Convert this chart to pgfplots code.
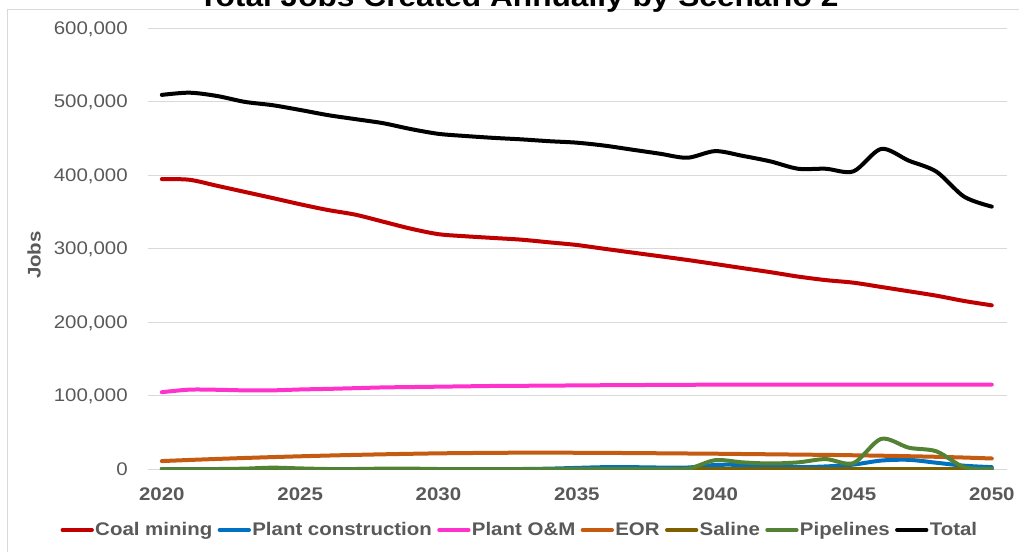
\documentclass[border=0pt]{standalone}
\usepackage{fontspec}
\setmainfont[FakeStretch=1.12]{Liberation Sans}
\usepackage{pgfplots}
\pgfplotsset{compat=1.18}
\usepackage{pgfplotstable}

\definecolor{coal}{HTML}{C00000}
\definecolor{constr}{HTML}{0070C0}
\definecolor{om}{HTML}{FF33CC}
\definecolor{eor}{HTML}{C55A11}
\definecolor{saline}{HTML}{7F6000}
\definecolor{pipe}{HTML}{548235}
\definecolor{txtgray}{HTML}{595959}
\definecolor{gridgray}{HTML}{D9D9D9}

% jobs per year, scenario 2
\pgfplotstableread{
year coal constr om eor saline pipe total
2020 394500 0 104500 10800 0 0 509000
2021 393500 0 108000 12300 0 0 512000
2022 385300 0 107800 13700 0 0 507500
2023 377000 0 107000 15000 0 500 499500
2024 368700 0 107000 16200 0 1800 495000
2025 360200 0 108200 17300 0 800 488500
2026 352400 0 109000 18300 0 0 481500
2027 346000 0 110000 19200 0 0 476000
2028 336500 0 111000 20000 0 500 470500
2029 327000 0 111500 20700 0 500 462500
2030 319500 0 112000 21300 0 0 456000
2031 316600 0 112500 21700 0 0 453000
2032 314300 0 113000 22000 0 0 450500
2033 312000 0 113200 22200 0 0 448500
2034 308400 500 113500 22200 0 0 446000
2035 304800 1500 113700 22100 0 0 444000
2036 299600 2500 114000 21900 0 0 440000
2037 294500 2500 114200 21700 0 0 434500
2038 289500 2000 114400 21400 0 0 429000
2039 284400 2000 114600 21100 0 0 423500
2040 278900 5500 114700 20800 0 12000 432500
2041 273300 5500 114800 20400 0 9000 426000
2042 267800 3000 114800 20000 0 7500 418500
2043 261800 2500 114800 19600 0 9000 408500
2044 257000 3500 114800 19200 0 13500 408500
2045 253500 6000 114800 18700 0 8000 405000
2046 247700 11500 114800 18100 0 41000 435500
2047 241800 12500 114800 17400 0 29000 419500
2048 235800 8500 114800 16600 0 24000 404500
2049 228600 4500 114800 15600 0 2500 370500
2050 222700 2500 114800 14300 0 0 357000
}\jobs

\begin{document}
\begin{tikzpicture}[x=1pt,y=1pt]
\draw[gridgray, line width=0.75pt] (5.25,-5) -- (5.25,405.75) -- (780,405.75);
\begin{axis}[
  at={(111pt,61.5pt)}, anchor=south west,
  scale only axis, width=644.25pt, height=330.75pt,
  xmin=2019.5, xmax=2050.55,
  ymin=0, ymax=600000,
  xtick={2020,2025,...,2050},
  ytick={0,100000,...,600000},
  scaled y ticks=false,
  ymajorgrids, grid style={gridgray, line width=0.75pt},
  axis line style={draw=none},
  major tick length=0pt,
  xticklabel style={font=\fontsize{13.7}{16}\selectfont\bfseries, text=txtgray, inner sep=0pt, anchor=north, yshift=-13.5pt},
  yticklabel style={font=\fontsize{13.7}{16}\selectfont, text=txtgray, inner sep=0pt, anchor=east, text depth=0pt, xshift=-15pt},
  x tick label style={/pgf/number format/1000 sep=},
  y tick label style={/pgf/number format/.cd, fixed, 1000 sep={,}},
  /pgf/number format/assume math mode=true,
  ylabel={Jobs},
  ylabel style={font=\fontsize{13.7}{16}\selectfont\bfseries, text=txtgray, at={(axis description cs:-0.1327,0.485)}, anchor=center},
  legend columns=-1,
  legend style={at={(axis description cs:0.4325,-0.1383)}, anchor=center, draw=none, fill=none,
    font=\fontsize{13.7}{16}\selectfont\bfseries, text=txtgray,
    nodes={inner sep=1pt},
    /tikz/every even column/.append style={column sep=3pt}},
  legend image code/.code={\draw[#1, line width=3pt] (0pt,0pt) -- (22pt,0pt);},
  every axis plot/.append style={line width=3pt, smooth, line cap=round, line join=round, no markers},
]
\addplot[coal] table[x=year, y=coal] {\jobs};
\addplot[constr] table[x=year, y=constr] {\jobs};
\addplot[om] table[x=year, y=om] {\jobs};
\addplot[eor] table[x=year, y=eor] {\jobs};
\addplot[saline] table[x=year, y=saline] {\jobs};
\addplot[pipe] table[x=year, y=pipe] {\jobs};
\addplot[black] table[x=year, y=total] {\jobs};
\legend{Coal mining, Plant construction, Plant O\&M, EOR, Saline, Pipelines, Total}
\end{axis}
\node[anchor=base, font=\fontsize{21.2}{25}\selectfont\bfseries] at (388.9,408.2) {Total Jobs Created Annually by Scenario 2};
\pgfresetboundingbox
\useasboundingbox (0,0) rectangle (764.25,413.25);
\end{tikzpicture}
\end{document}
